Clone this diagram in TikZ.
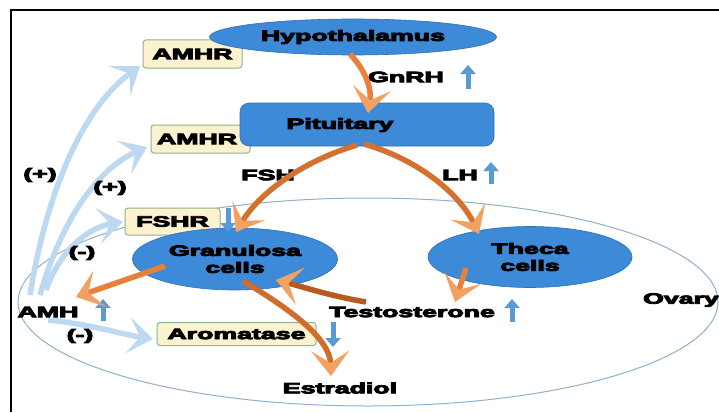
\documentclass[tikz,border=0pt]{standalone}
\usepackage{fontspec}
\setmainfont{Liberation Sans}
\newfontfamily\heavyfont{Liberation Sans Bold}[FakeBold=5]
\usetikzlibrary{arrows.meta,shapes.geometric}
\definecolor{cellblue}{HTML}{3D8AD8}
\definecolor{cellborder}{HTML}{2F6FB3}
\definecolor{boxfill}{HTML}{FDF2D0}
\definecolor{boxborder}{HTML}{8DB48A}
\definecolor{orng}{HTML}{E8803A}
\definecolor{ornglight}{HTML}{F3A063}
\definecolor{orngdark}{HTML}{B85A1E}
\definecolor{lblue}{HTML}{BDD9F1}
\definecolor{midblue}{HTML}{5B9BD5}
\definecolor{ovaryline}{HTML}{8FB0CC}
\newcommand{\wt}[1]{\scalebox{1.78}[1]{#1}}
\newcommand{\lblfont}{\fontsize{15}{17}\selectfont\heavyfont}
\tikzset{
  lbl/.style={font=\lblfont, inner sep=0pt, text=black},
  cellell/.style={ellipse, fill=cellblue, draw=cellborder, line width=0.6pt, inner sep=0pt},
  recbox/.style={rectangle, rounded corners=3pt, fill=boxfill, draw=boxborder, line width=1pt, inner sep=0pt},
  oarrow/.style={line width=5.5pt, draw=orng, -{Stealth[length=25pt,width=38pt,inset=12pt,color=ornglight]}},
  barrow/.style={line width=5.5pt, draw=lblue, -{Stealth[length=25pt,width=36pt,inset=12pt]}},
  updown/.style={line width=5pt, draw=midblue, -{Triangle[length=9pt,width=15pt]}},
}
\begin{document}
\begin{tikzpicture}[x=1pt,y=-1pt]
\useasboundingbox (0,0) rectangle (719,412);
\fill[white] (0,0) rectangle (719,412);
% frame
\draw[line width=2pt, black] (11,412) -- (11,10) -- (719,10);
% ovary
\node[ellipse, draw=ovaryline, line width=1pt, minimum width=700pt, minimum height=208pt, inner sep=0pt] (ovary) at (368,302) {};
% light blue arrows from AMH
\coordinate (b1s) at (30,295); \coordinate (b1e) at (140,66);
\coordinate (b2s) at (40,295); \coordinate (b2e) at (147,147);
\coordinate (b3s) at (46,290); \coordinate (b3e) at (123,222);
\coordinate (b4s) at (48,320); \coordinate (b4e) at (153,339);
\draw[barrow] (b1s) .. controls (45,200) and (80,110) .. (b1e);
\draw[barrow] (b2s) .. controls (60,225) and (95,170) .. (b2e);
\draw[barrow] (b3s) .. controls (58,255) and (85,228) .. (b3e);
\draw[barrow] (b4s) .. controls (90,324) and (120,334) .. (b4e);
% boxes
\node[recbox, minimum width=99pt, minimum height=28pt] (amhr1) at (192.5,54) {\lblfont\wt{AMHR}};
\node[recbox, minimum width=99pt, minimum height=28pt] (amhr2) at (200.5,139) {};
\node[lbl] (amhr2t) at (197,139) {\wt{AMHR}};
\node[recbox, minimum width=95pt, minimum height=27pt] (fshr) at (172.5,221.5) {\lblfont\wt{FSHR}};
\node[recbox, minimum width=159pt, minimum height=23pt] (arom) at (236.5,334) {\lblfont\wt{Aromatase}};
% blue shapes
\node[cellell, minimum width=287pt, minimum height=36pt] (hyp) at (353,37) {\lblfont\wt{Hypothalamus}};
\node[rectangle, rounded corners=9pt, fill=cellblue, draw=cellborder, line width=0.6pt, minimum width=254pt, minimum height=43pt] (pit) at (367,124.5) {};
\node[lbl] (pitt) at (340,125) {\wt{Pituitary}};
\node[cellell, minimum width=205pt, minimum height=62pt] (gran) at (235,259) {};
\node[lbl, align=center] (grant) at (235,259) {\wt{Granulosa}\\\wt{cells}};
\node[cellell, minimum width=204pt, minimum height=61pt] (theca) at (530,257) {};
\node[lbl, align=center] (thecat) at (530,257) {\wt{Theca}\\\wt{cells}};
% labels
\node[lbl] (gnrh) at (406,77) {\wt{GnRH}};
\node[lbl] (fsh) at (268,175) {\wt{FSH}};
\node[lbl] (lh) at (460,175) {\wt{LH}};
\node[lbl] (plus1) at (40,175) {\wt{(+)}};
\node[lbl] (plus2) at (110,188) {\wt{(+)}};
\node[lbl] (minus1) at (82,253) {\wt{(-)}};
\node[lbl] (minus2) at (80,336) {\wt{(-)}};
\node[lbl] (amh) at (48,312) {\wt{AMH}};
\node[lbl] (testo) at (412,312) {\wt{Testosterone}};
\node[lbl] (estr) at (340,388) {\wt{Estradiol}};
\node[lbl] (ovlbl) at (681,300) {\wt{Ovary}};
% small blue up/down arrows
\coordinate (u1s) at (468,89); \coordinate (u1e) at (468,65);
\coordinate (u2s) at (491,184); \coordinate (u2e) at (491,162);
\coordinate (u3s) at (103,321); \coordinate (u3e) at (103,299);
\coordinate (u4s) at (512,322); \coordinate (u4e) at (512,299);
\coordinate (d1s) at (228,208); \coordinate (d1e) at (228,232);
\coordinate (d2s) at (333,322); \coordinate (d2e) at (333,347);
\draw[updown] (u1s) -- (u1e);
\draw[updown] (u2s) -- (u2e);
\draw[updown] (u3s) -- (u3e);
\draw[updown] (u4s) -- (u4e);
\draw[updown] (d1s) -- (d1e);
\draw[updown] (d2s) -- (d2e);
% orange arrows
\coordinate (o1s) at (350,54); \coordinate (o1e) at (368,113);
\coordinate (o2s) at (357,145); \coordinate (o2e) at (236,232);
\coordinate (o3s) at (364,144); \coordinate (o3e) at (479,234);
\coordinate (o4s) at (165,266); \coordinate (o4e) at (76,297);
\coordinate (o5s) at (243,281); \coordinate (o5e) at (331,376);
\coordinate (o6s) at (366,302); \coordinate (o6e) at (276,280);
\coordinate (o7s) at (466,268); \coordinate (o7e) at (455,302);
\draw[oarrow] (o1s) .. controls (365,70) and (372,88) .. (o1e);
\draw[oarrow, draw=orngdark!40!orng] (o2s) .. controls (300,162) and (258,195) .. (o2e);
\draw[oarrow, draw=orngdark!40!orng] (o3s) .. controls (420,160) and (460,195) .. (o3e);
\draw[oarrow] (o4s) -- (o4e);
\draw[oarrow, draw=orngdark!50!orng] (o5s) .. controls (295,312) and (330,340) .. (o5e);
\draw[oarrow, draw=orngdark] (o6s) .. controls (330,296) and (300,286) .. (o6e);
\draw[oarrow] (o7s) -- (o7e);
\end{tikzpicture}
\end{document}
